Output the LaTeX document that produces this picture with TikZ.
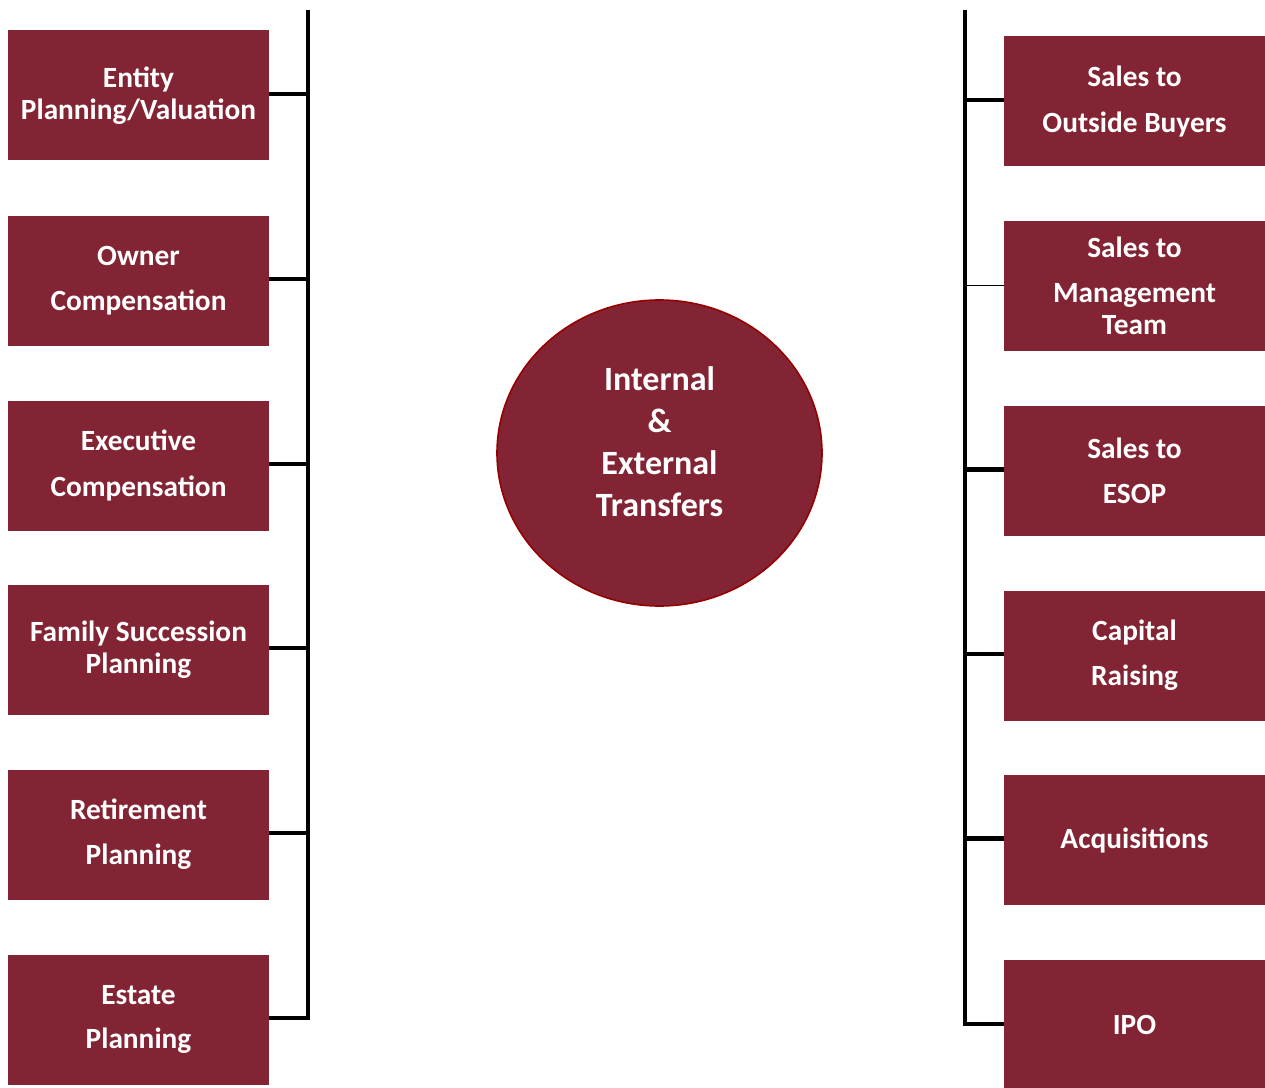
\documentclass[tikz,border=0pt]{standalone}
\usepackage{fontspec}
\setmainfont{Carlito}
\usetikzlibrary{shapes.geometric}
\definecolor{wine}{RGB}{130,36,51}
\definecolor{rim}{RGB}{150,0,0}

\begin{document}
\begin{tikzpicture}[x=0.75pt,y=-0.75pt,
    box/.style={rectangle, fill=wine, text=white, inner sep=0pt,
        minimum width=195.75pt, minimum height=97.5pt, align=center,
        font=\bfseries\fontsize{22}{24}\selectfont},
    hubtext/.style={text=white, align=center,
        font=\bfseries\fontsize{25.5}{31.5}\selectfont},
    spine/.style={line width=3.6pt, line join=miter}]

    \useasboundingbox (0,0) rectangle (1265,1088);

    % left column
    \node[box] (EPV) at (138.5,95.5) {Entity\\Planning/Valuation};
    \node[box] (OC) at (138.5,280.5) {Owner\\[10pt]Compensation};
    \node[box] (EC) at (138.5,465.5) {Executive\\[10pt]Compensation};
    \node[box] (FSP) at (138.5,649.5) {Family Succession\\Planning};
    \node[box] (RP) at (138.5,834.5) {Retirement\\[10pt]Planning};
    \node[box] (EP) at (138.5,1019.5) {Estate\\[9pt]Planning};

    % right column
    \node[box] (SOB) at (1134.5,101.5) {Sales to\\[10pt]Outside Buyers};
    \node[box] (SMT) at (1134.5,285.5) {Sales to\\[10pt]Management\\Team};
    \node[box] (SE) at (1134.5,471) {Sales to\\[10pt]ESOP};
    \node[box] (CR) at (1134.5,655.5) {Capital\\[10pt]Raising};
    \node[box] (ACQ) at (1134.5,840) {Acquisitions};
    \node[box] (IPO) at (1134.5,1024.5) {IPO};

    % centre
    \node[ellipse, fill=wine, draw=rim, line width=1.2pt,
        minimum width=243.75pt, minimum height=229.5pt] (hub) at (659.5,453) {};
    \node[hubtext] (hubtxt) at ([yshift=8.5pt]hub.center)
        {Internal\\\&\\External\\Transfers};

    % spines
    \coordinate (ltop) at (308,10);
    \coordinate (rtop) at (965,10);
    \draw[spine] (ltop) |- ([yshift=1.1pt]EP.east);
    \draw[spine] (rtop) |- ([yshift=0.4pt]IPO.west);
    \foreach \n in {EPV,OC,EC,FSP,RP}
        \draw[spine] ([yshift=1.1pt]\n.east) -- ([yshift=1.1pt]\n.east -| ltop);
    \foreach \n in {SOB,SE,CR,ACQ}
        \draw[spine] ([yshift=1.1pt]\n.west) -- ([yshift=1.1pt]\n.west -| rtop);
    \draw[line width=0.9pt] (SMT.west) -- (SMT.west -| rtop);
\end{tikzpicture}
\end{document}
